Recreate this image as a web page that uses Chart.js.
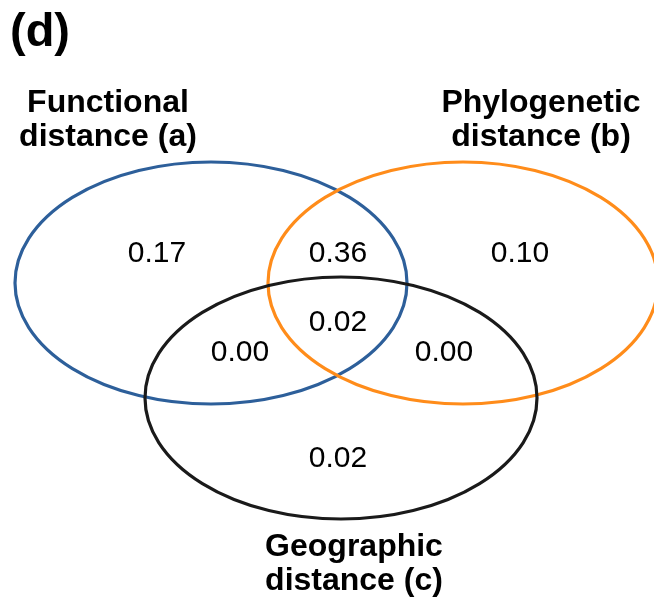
<!DOCTYPE html>
<html>
<head>
<meta charset="utf-8">
<script src="https://cdn.jsdelivr.net/npm/chart.js@4/dist/chart.umd.min.js"></script>
<style>
  html, body { margin: 0; padding: 0; background: #fff; }
  #wrap { width: 654px; height: 598px; }
</style>
</head>
<body>
<div id="wrap"><canvas id="venn" width="654" height="598"></canvas></div>
<script>
// donnees du diagramme (part de variance expliquee)
const setNames = ['Functional\ndistance (a)', 'Phylogenetic\ndistance (b)', 'Geographic\ndistance (c)'];
const regionNames = ['a', 'ab', 'b', 'abc', 'ac', 'bc', 'c'];
const regionValues = [0.17, 0.36, 0.10, 0.02, 0.00, 0.00, 0.02];
const panelLabel = '(d)';

// mise en page (unites = pixels du cadre 654 x 598)
const regionPos = {
  a: [157, 262], ab: [338, 262], b: [520, 262],
  abc: [338, 331], ac: [240, 361], bc: [444, 361], c: [338, 467]
};
const circles = [
  { cx: 211, cy: 283, rx: 196, ry: 121, color: '#2d5f9a' },
  { cx: 463, cy: 283, rx: 195, ry: 121, color: '#ff8c1a' },
  { cx: 341, cy: 398, rx: 196, ry: 121, color: '#1a1a1a' }
];
const namePos = [[108, 112], [541, 112], [354, 556]];

const vennPlugin = {
  id: 'venn',
  afterDatasetsDraw(chart) {
    const { ctx, scales: { x, y } } = chart;
    ctx.save();
    ctx.lineWidth = 3.2;
    circles.forEach(c => {
      const px = x.getPixelForValue(c.cx), py = y.getPixelForValue(c.cy);
      const rx = Math.abs(x.getPixelForValue(c.cx + c.rx) - px);
      const ry = Math.abs(y.getPixelForValue(c.cy + c.ry) - py);
      ctx.strokeStyle = c.color;
      ctx.beginPath();
      ctx.ellipse(px, py, rx, ry, 0, 0, Math.PI * 2);
      ctx.stroke();
    });

    // valeurs des regions
    ctx.fillStyle = '#000';
    ctx.textAlign = 'center';
    ctx.textBaseline = 'alphabetic';
    ctx.font = '30px "Liberation Sans", Arial, sans-serif';
    const pts = chart.getDatasetMeta(0).data;
    pts.forEach((p, i) => {
      ctx.fillText(regionValues[i].toFixed(2), p.x, p.y);
    });

    // noms des ensembles
    ctx.font = 'bold 32px "Liberation Sans", Arial, sans-serif';
    setNames.forEach((n, i) => {
      const lines = n.split('\n');
      const px = x.getPixelForValue(namePos[i][0]);
      const py = y.getPixelForValue(namePos[i][1]);
      lines.forEach((l, k) => ctx.fillText(l, px, py + k * 34));
    });

    ctx.textAlign = 'left';
    ctx.font = 'bold 47px "Liberation Sans", Arial, sans-serif';
    ctx.fillText(panelLabel, x.getPixelForValue(10), y.getPixelForValue(46));
    ctx.restore();
  }
};

new Chart(document.getElementById('venn'), {
  type: 'scatter',
  data: {
    labels: regionNames,
    datasets: [{
      data: regionNames.map(r => ({ x: regionPos[r][0], y: regionPos[r][1] })),
      pointRadius: 0,
      pointHoverRadius: 0
    }]
  },
  options: {
    responsive: false,
    animation: false,
    events: [],
    layout: { padding: 0 },
    plugins: { legend: { display: false }, tooltip: { enabled: false } },
    scales: {
      x: { type: 'linear', min: 0, max: 654, display: false },
      y: { type: 'linear', min: 0, max: 598, reverse: true, display: false }
    }
  },
  plugins: [vennPlugin]
});
</script>
</body>
</html>
